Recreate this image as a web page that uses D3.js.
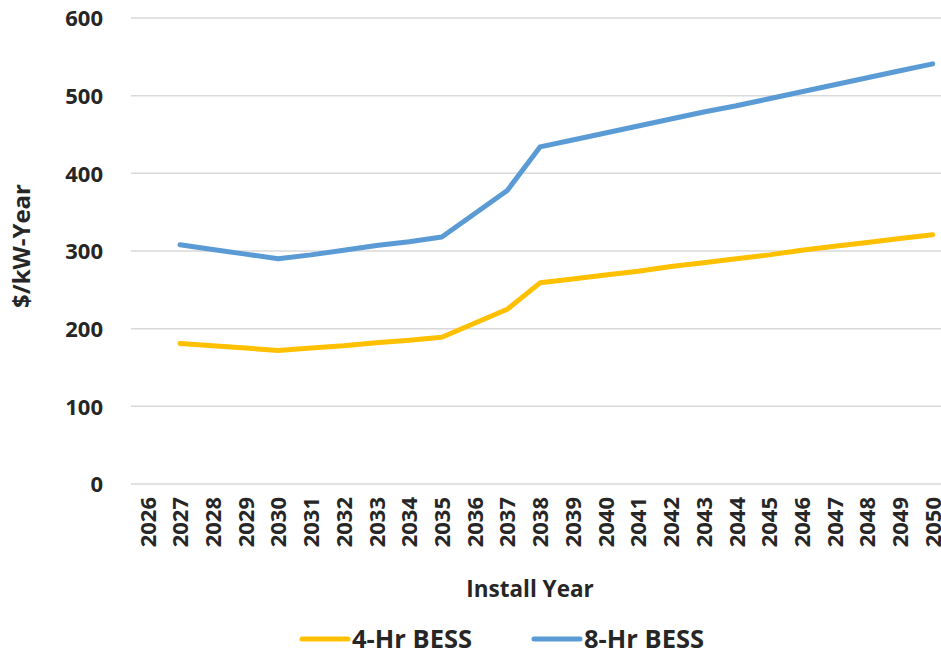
<!DOCTYPE html>
<html>
<head>
<meta charset="utf-8">
<script src="https://cdn.jsdelivr.net/npm/d3@7"></script>
<style>
  body { margin: 0; background: #fff; }
  svg text { font-family: "Open Sans", sans-serif; font-weight: bold; fill: #262626; }
</style>
</head>
<body>
<div class="chart"></div>
<script>
// datos
var years = d3.range(2026, 2051).map(String);
var yTicks = [0, 100, 200, 300, 400, 500, 600];
var years4 = ["2027","2028","2029","2030","2031","2032","2033","2034","2035","2036","2037","2038",
              "2039","2040","2041","2042","2043","2044","2045","2046","2047","2048","2049","2050"];
var bess4 = [181, 178, 175, 172, 175, 178, 182, 185, 189, 207, 225, 259,
             264, 269, 274, 280, 285, 290, 295, 301, 306, 311, 316, 321];
var bess8 = [308, 302, 296, 290, 295, 301, 307, 312, 318, 348, 378, 434,
             443, 452, 461, 470, 479, 487, 496, 505, 514, 523, 532, 541];
var seriesNames = ["4-Hr BESS", "8-Hr BESS"];
var colores = ["#FFC000", "#5B9BD5"];

var width = 941, height = 654;

var svg = d3.select(".chart").append("svg")
    .attr("width", width)
    .attr("height", height);

var x = d3.scalePoint().domain(years).range([147.3, 932.7]);
var y = d3.scaleLinear().domain([0, 600]).range([484, 18]);
var paso = x.step();

// Lineas de la cuadricula
svg.append("g").selectAll("line")
    .data(yTicks)
    .enter().append("line")
    .attr("x1", x.range()[0] - paso / 2)
    .attr("x2", x.range()[1] + paso / 2)
    .attr("y1", function(d) { return y(d); })
    .attr("y2", function(d) { return y(d); })
    .attr("stroke", "#D9D9D9")
    .attr("stroke-width", 1.5);

// Eje Y
var ejeY = svg.append("g")
    .attr("transform", "translate(103,0)")
    .call(d3.axisLeft(y).tickValues(yTicks).tickSize(0).tickPadding(0));
ejeY.select(".domain").remove();
ejeY.selectAll("text").style("font-size", "22px").attr("dy", "0.35em");

// Eje X
var ejeX = svg.append("g")
    .attr("transform", "translate(0,497)")
    .call(d3.axisBottom(x).tickSize(0).tickPadding(0));
ejeX.select(".domain").remove();
ejeX.selectAll("text")
    .style("font-size", "22px")
    .attr("text-anchor", "end")
    .attr("transform", "rotate(-90)")
    .attr("x", 0)
    .attr("y", 0)
    .attr("dy", "0.35em");

// Titulos
svg.append("text")
    .attr("transform", "translate(30,246) rotate(-90)")
    .attr("text-anchor", "middle")
    .style("font-size", "24px")
    .text("$/kW-Year");

svg.append("text")
    .attr("x", 530)
    .attr("y", 597)
    .attr("text-anchor", "middle")
    .style("font-size", "22.5px")
    .text("Install Year");

// Lineas
var linea = d3.line()
    .x(function(d) { return x(d.year); })
    .y(function(d) { return y(d.value); });

[bess4, bess8].forEach(function(serie, i) {
    var datos = serie.map(function(v, j) { return { year: years4[j], value: v }; });
    svg.append("path")
        .datum(datos)
        .attr("fill", "none")
        .attr("stroke", colores[i])
        .attr("stroke-width", 5)
        .attr("stroke-linecap", "round")
        .attr("stroke-linejoin", "round")
        .attr("d", linea);
});

// Leyenda
var leyendaX = [300, 532];
seriesNames.forEach(function(nombre, i) {
    svg.append("line")
        .attr("x1", leyendaX[i] + 2)
        .attr("x2", leyendaX[i] + 48)
        .attr("y1", 639)
        .attr("y2", 639)
        .attr("stroke", colores[i])
        .attr("stroke-width", 5)
        .attr("stroke-linecap", "round");
    svg.append("text")
        .attr("x", leyendaX[i] + 52)
        .attr("y", 648)
        .style("font-size", "25.5px")
        .text(nombre);
});
</script>
</body>
</html>
